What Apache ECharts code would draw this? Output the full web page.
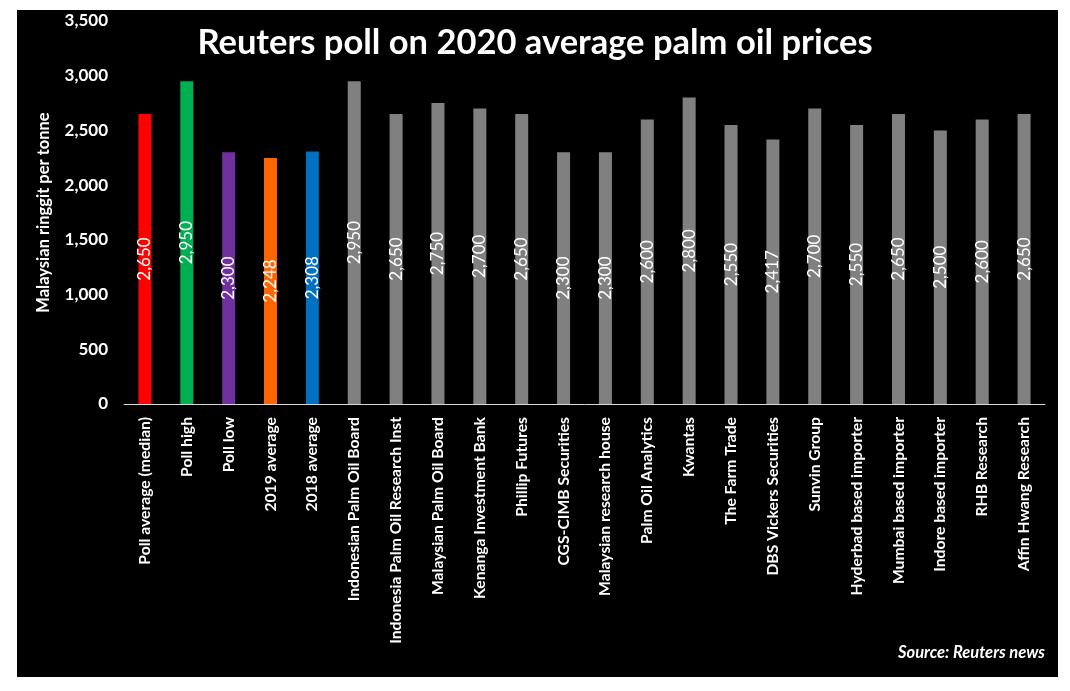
<!DOCTYPE html>
<html>
<head>
<meta charset="utf-8">
<script src="https://cdn.jsdelivr.net/npm/echarts@6/dist/echarts.min.js"></script>
<style>
html,body{margin:0;padding:0;background:#fff;}
#c{width:1070px;height:691px;}
</style>
</head>
<body>
<div id="c"></div>
<script>
const categories = ["Poll average (median)","Poll high","Poll low","2019 average","2018 average","Indonesian Palm Oil Board","Indonesia Palm Oil Research Inst","Malaysian Palm Oil Board","Kenanga Investment Bank","Phillip Futures","CGS-CIMB Securities","Malaysian research house","Palm Oil Analytics","Kwantas","The Farm Trade","DBS Vickers Securities","Sunvin Group","Hyderbad based importer","Mumbai based importer","Indore based importer","RHB Research","Affin Hwang Research"];
const values = [2650,2950,2300,2248,2308,2950,2650,2750,2700,2650,2300,2300,2600,2800,2550,2417,2700,2550,2650,2500,2600,2650];
const barColors = ["#FF0000","#00B050","#7030A0","#FF6600","#0070C0","#808080","#808080","#808080","#808080","#808080","#808080","#808080","#808080","#808080","#808080","#808080","#808080","#808080","#808080","#808080","#808080","#808080"];
const yTicks = {min:0,max:3500,interval:500};

const chart = echarts.init(document.getElementById('c'));
const FONT = 'Lato';
const fmt = v => v.toLocaleString('en-US');
chart.setOption({
  backgroundColor:'#ffffff',
  animation:false,
  graphic:[
    {type:'rect',shape:{x:17,y:10,width:1041,height:667},style:{fill:'#000'},z:-10,silent:true},
    {type:'text',right:25,top:644,style:{text:'Source: Reuters news',fill:'#fff',font:'italic bold 16.5px '+FONT},z:10}
  ],
  title:{text:'Reuters poll on 2020 average palm oil prices',left:'center',top:20,
    textStyle:{color:'#fff',fontFamily:FONT,fontWeight:'bold',fontSize:34.5}},
  grid:{left:124,right:25,top:21,bottom:287,containLabel:false},
  xAxis:{type:'category',data:categories,
    axisLine:{lineStyle:{color:'#d9d9d9',width:1}},
    axisTick:{show:false},
    axisLabel:{rotate:90,color:'#fff',fontFamily:FONT,fontWeight:'bold',fontSize:15.7,margin:13,interval:0}},
  yAxis:{type:'value',min:yTicks.min,max:yTicks.max,interval:yTicks.interval,
    name:'Malaysian ringgit per tonne',nameLocation:'middle',nameGap:72,nameRotate:90,
    nameTextStyle:{color:'#fff',fontFamily:FONT,fontWeight:'bold',fontSize:16.5},
    axisLine:{show:false},axisTick:{show:false},splitLine:{show:false},
    axisLabel:{color:'#fff',fontFamily:FONT,fontWeight:'bold',fontSize:17,margin:16,formatter:v=>fmt(v)}},
  series:[{type:'bar',barWidth:13,
    data:values.map((v,i)=>({value:v,itemStyle:{color:barColors[i]}})),
    label:{show:true,position:'inside',rotate:90,color:'#fff',fontFamily:FONT,fontSize:17,
      formatter:p=>fmt(p.value)}}]
});
</script>
</body>
</html>
